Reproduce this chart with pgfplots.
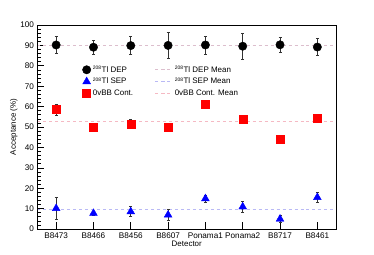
\documentclass[border=0pt]{standalone}
\usepackage{fontspec}
\setmainfont{Liberation Sans}
\usepackage{pgfplots}
\usepackage{pgfplotstable}
\pgfplotsset{compat=1.18}
\definecolor{depmean}{RGB}{220,190,205}
\definecolor{sepmean}{RGB}{185,185,245}
\definecolor{bbmean}{RGB}{245,185,195}
\pgfplotstableread{
x y e
0 90.2 4.3
1 89.1 3.6
2 89.9 4.4
3 90.0 6.4
4 90.2 4.5
5 89.6 6.3
6 90.3 3.8
7 89.2 4.2
}\dep
\pgfplotstableread{
x y e
0 10.1 5.5
1 7.7 1.0
2 8.5 2.4
3 6.9 2.8
4 14.9 1.6
5 10.9 2.6
6 4.9 1.7
7 15.5 2.6
}\sep
\pgfplotstableread{
x y e
0 58.5 2.7
1 50.0 1.5
2 51.6 2.0
3 49.7 2.0
4 61.4 1.5
5 53.8 2.0
6 44.1 1.3
7 54.4 2.0
}\bb
\newcommand{\iso}{\textsuperscript{\fontsize{5}{5}\selectfont 208}}
\begin{document}
\begin{tikzpicture}
\path[use as bounding box] (-37.5bp,-26bp) rectangle (336.5bp,229bp);
\begin{axis}[
  at={(0,0)}, anchor=south west,
  scale only axis, width=298.5bp, height=204bp,
  xmin=-0.5, xmax=7.5, ymin=0, ymax=100,
  xtick={0,...,7},
  xticklabels={B8473,B8466,B8456,B8607,Ponama1,Ponama2,B8717,B8461},
  ytick={0,10,...,100},
  minor y tick num=4,
  xtick pos=bottom, ytick pos=left,
  tick align=inside,
  major tick length=6.5bp, minor tick length=3.5bp,
  tick style={black, line width=0.6pt},
  axis line style={line width=0.7pt},
  /pgf/number format/assume math mode=true,
  tick label style={font=\fontsize{8.2}{9}\selectfont},
  label style={font=\fontsize{8}{9}\selectfont},
  xlabel={Detector},
  ylabel={Acceptance (\%)},
  xlabel style={yshift=4bp},
  ylabel style={yshift=-4bp},
  legend columns=2,
  legend style={draw=none, fill=none, font=\fontsize{8}{9}\selectfont,
    at={(axis description cs:0.14,0.82)}, anchor=north west,
    row sep=0bp, /tikz/every even column/.append style={column sep=20bp}},
  legend cell align=left,
]
\addlegendimage{only marks, mark=*, black, mark size=4.2bp}
\addlegendentry{\iso Tl DEP}
\addlegendimage{dashed, depmean, line width=0.6pt}
\addlegendentry{\iso Tl DEP Mean}
\addlegendimage{only marks, mark=triangle*, blue, mark size=4.5bp}
\addlegendentry{\iso Tl SEP}
\addlegendimage{dashed, sepmean, line width=0.6pt}
\addlegendentry{\iso Tl SEP Mean}
\addlegendimage{only marks, mark=square*, red, mark size=4bp}
\addlegendentry{0vBB Cont.}
\addlegendimage{dashed, bbmean, line width=0.6pt}
\addlegendentry{0vBB Cont. Mean}

\addplot[forget plot, dashed, depmean, line width=0.6pt] coordinates {(-0.5,89.9) (7.5,89.9)};
\addplot[forget plot, dashed, sepmean, line width=0.6pt] coordinates {(-0.5,9.9) (7.5,9.9)};
\addplot[forget plot, dashed, bbmean, line width=0.6pt] coordinates {(-0.5,52.9) (7.5,52.9)};

\addplot[forget plot, only marks, mark=*, black, mark size=4.2bp,
  error bars/.cd, y dir=both, y explicit,
  error bar style={black!80, line width=0.6pt},
  error mark options={rotate=90, mark size=1.5bp, black!80, line width=0.6pt}]
  table[x=x, y=y, y error=e]{\dep};
\addplot[forget plot, only marks, mark=triangle*, blue, mark size=4.5bp,
  error bars/.cd, y dir=both, y explicit,
  error bar style={black!80, line width=0.6pt},
  error mark options={rotate=90, mark size=1.5bp, black!80, line width=0.6pt}]
  table[x=x, y=y, y error=e]{\sep};
\addplot[forget plot, only marks, mark=square*, red, mark size=4bp,
  error bars/.cd, y dir=both, y explicit,
  error bar style={black!80, line width=0.6pt},
  error mark options={rotate=90, mark size=1.5bp, black!80, line width=0.6pt}]
  table[x=x, y=y, y error=e]{\bb};
\end{axis}
\end{tikzpicture}
\end{document}
